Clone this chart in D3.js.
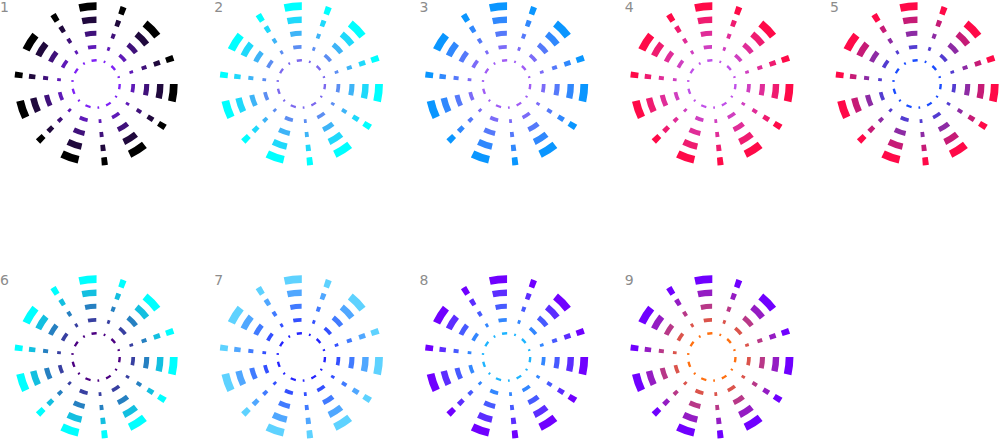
<!DOCTYPE html>
<html>
<head>
<meta charset="utf-8">
<style>
    body { margin: 0; background: #fff; }
    .label { font-family: 'DejaVu Sans', sans-serif; font-size: 14px; fill: #8c8c8c; }
</style>
<script src="https://cdn.jsdelivr.net/npm/d3@7"></script>
</head>
<body>
<script>
    // one entry per small multiple
    const names = ['1', '2', '3', '4', '5', '6', '7', '8', '9'];
    const innerColors = ['#7f22f5', '#7b68ee', '#a05cf5', '#c050e8', '#1a4cff', '#4b0082', '#2424ff', '#1eb4ff', '#ff7010'];
    const outerColors = ['#000000', '#00ffff', '#0a96ff', '#ff0a48', '#ff0a48', '#00ffff', '#5ed2ff', '#7000ff', '#7000ff'];

    // rings, inner to outer
    const rings = [0, 1, 2, 3, 4];
    // dash pattern (long dash, gap, short dash, gap), repeated round each ring
    const dashPattern = [3, 4, 1, 4];
    const repeats = 7;

    const width = 1000, height = 440;

    const svg = d3.select('body').append('svg')
        .attr('width', width)
        .attr('height', height);

    const colX = d3.scaleLinear().domain([0, 4]).range([96, 917]);
    const rowY = d3.scaleLinear().domain([0, 1]).range([84, 357]);
    const radius = d3.scaleLinear().domain([0, rings.length - 1]).range([23.7, 77.8]);

    const unitsPerTurn = d3.sum(dashPattern) * repeats;

    const chart = svg.selectAll('g.chart')
        .data(names)
        .join('g')
        .attr('class', 'chart');

    chart.each(function(name, i) {
        const g = d3.select(this);
        const col = i % 5, row = Math.floor(i / 5);
        const cx = colX(col), cy = rowY(row);
        const color = d3.scaleLinear()
            .domain([0, rings.length - 1])
            .range([innerColors[i], outerColors[i]])
            .interpolate(d3.interpolateRgb);

        g.append('text')
            .attr('class', 'label')
            .attr('x', col === 0 ? 0 : cx - 87)
            .attr('y', cy - 72)
            .text(name);

        g.selectAll('circle')
            .data(rings)
            .join('circle')
            .attr('cx', cx)
            .attr('cy', cy)
            .attr('r', d => radius(d))
            .attr('fill', 'none')
            .attr('stroke', d => color(d))
            .attr('stroke-width', d => radius(d) / 10)
            .attr('stroke-dasharray', d => {
                const unit = 2 * Math.PI * radius(d) / unitsPerTurn;
                return dashPattern.map(v => v * unit).join(' ');
            });
    });
</script>
</body>
</html>
